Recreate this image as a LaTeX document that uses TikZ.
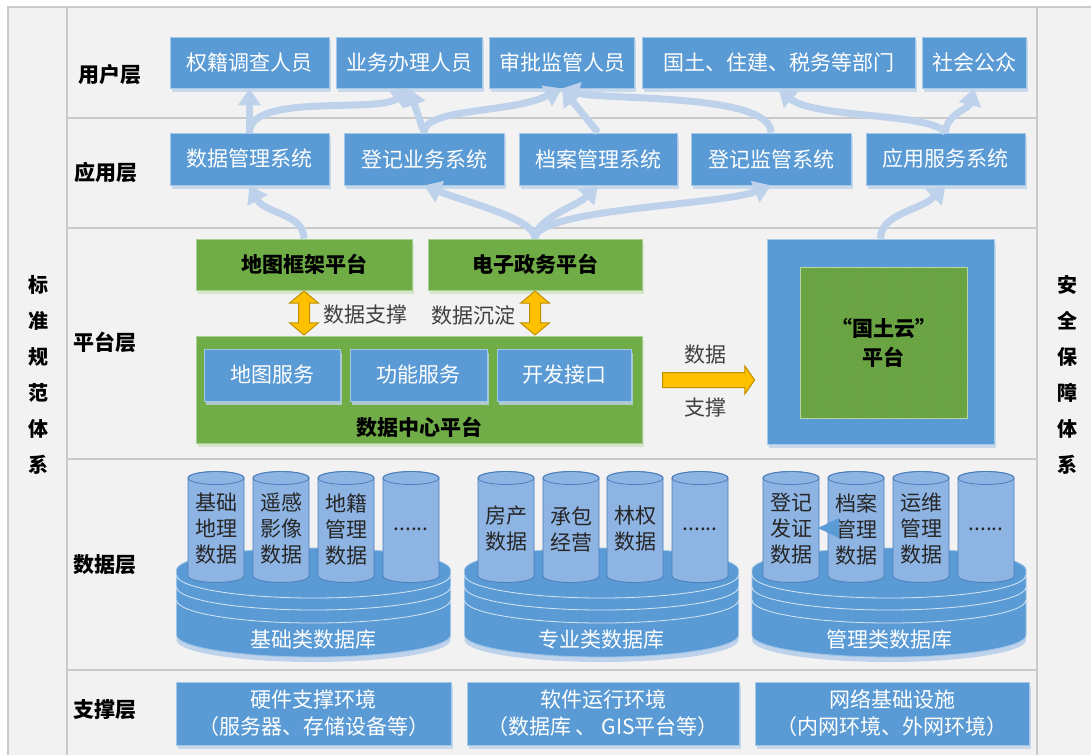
\documentclass[tikz,border=0pt]{standalone}
\usepackage{fontspec}
\setmainfont{Noto Sans CJK SC}
\usetikzlibrary{arrows.meta,shadows,patterns,shapes.arrows,calc}

\definecolor{boxblue}{HTML}{5B9BD5}
\definecolor{boxgreen}{HTML}{70AD47}
\definecolor{flowblue}{HTML}{BED3EB}
\definecolor{cylblue}{HTML}{8EB4E3}
\definecolor{cyledge}{HTML}{4A7EBB}
\definecolor{linegray}{HTML}{CACACA}
\definecolor{bggray}{HTML}{F2F2F2}
\definecolor{gold}{HTML}{FFC000}
\definecolor{golddark}{HTML}{BF9000}
\definecolor{textgray}{HTML}{404040}

\tikzset{
	every node/.style={font=\fontsize{21}{26}\selectfont},
	bluebox/.style={draw=boxblue!55!white, line width=.8pt, fill=boxblue, text=white, inner sep=0pt,
		drop shadow={shadow xshift=1.5pt, shadow yshift=-4pt, fill=flowblue, opacity=.8}},
	greenbox/.style={draw=boxgreen!60!white, line width=.8pt, fill=boxgreen, inner sep=0pt,
		font=\fontsize{21}{26}\selectfont\bfseries,
		drop shadow={shadow xshift=1.5pt, shadow yshift=-4pt, fill=boxgreen!35!white, opacity=.8}},
	layerlabel/.style={font=\fontsize{21}{26}\selectfont\bfseries},
	sidetext/.style={font=\fontsize{20}{36}\selectfont\bfseries, align=center},
	flow/.style={flowblue, line width=7pt, -{Triangle[width=22pt,length=17pt]}},
	yarrow/.style={fill=gold, draw=golddark, line width=1pt, inner sep=0pt},
	cyltext/.style={align=center, text=black!85},
}

\begin{document}
\begin{tikzpicture}[x=1pt, y=-1pt]
	\useasboundingbox (0,0) rectangle (1091,755);
	% frame and layers
	\fill[bggray] (8,7) rectangle (1091,755);
	\draw[linegray, line width=1.2pt] (8,755) -- (8,7) -- (1091,7);
	\draw[linegray, line width=1.2pt] (67,7) -- (67,755) (1037,7) -- (1037,755);
	\foreach \y in {118, 228, 459, 670} {
		\draw[linegray, line width=1.2pt] (67,\y) -- (1037,\y);
	}
	\node[sidetext] (bzgf) at (38,375) {标\\准\\规\\范\\体\\系};
	\node[sidetext] (aqbz) at (1067,375) {安\\全\\保\\障\\体\\系};

	\node[layerlabel] (yhc) at (110,75) {用户层};
	\node[layerlabel] (yyc) at (106,172) {应用层};
	\node[layerlabel] (ptc) at (105,342) {平台层};
	\node[layerlabel] (sjc) at (105,565) {数据层};
	\node[layerlabel] (zcc) at (105,710) {支撑层};

	% user layer
	\node[bluebox, minimum width=159pt, minimum height=51pt] (qjdc) at (249.5,62.5) {权籍调查人员};
	\node[bluebox, minimum width=146pt, minimum height=51pt] (ywbl) at (409,62.5) {业务办理人员};
	\node[bluebox, minimum width=145pt, minimum height=51pt] (spjg) at (562,62.5) {审批监管人员};
	\node[bluebox, minimum width=273pt, minimum height=51pt] (gtbm) at (778.5,62.5) {国土、住建、税务等部门};
	\node[bluebox, minimum width=104pt, minimum height=51pt] (shgz) at (974,62.5) {社会公众};

	% application layer
	\node[bluebox, minimum width=159pt, minimum height=52pt] (sjgl) at (249.5,159) {数据管理系统};
	\node[bluebox, minimum width=160pt, minimum height=52pt] (djyw) at (424,159) {登记业务系统};
	\node[bluebox, minimum width=158pt, minimum height=52pt] (dagl) at (598,159) {档案管理系统};
	\node[bluebox, minimum width=160pt, minimum height=52pt] (djjg) at (771,159) {登记监管系统};
	\node[bluebox, minimum width=159pt, minimum height=52pt] (yyfw) at (945.5,159) {应用服务系统};

	% platform layer
	\node[greenbox, minimum width=216pt, minimum height=51pt] (dtkj) at (304,264.5) {地图框架平台};
	\node[greenbox, minimum width=214pt, minimum height=51pt] (dzzw) at (535,264.5) {电子政务平台};
	\node[greenbox, minimum width=446pt, minimum height=107pt] (sjzx) at (419,389.5) {};
	\node[layerlabel] (sjzxmc) at (419,427) {数据中心平台};
	\node[bluebox, minimum width=136pt, minimum height=52pt] (dtfw) at (272,375) {地图服务};
	\node[bluebox, minimum width=137pt, minimum height=52pt] (gnfw) at (418.5,375) {功能服务};
	\node[bluebox, minimum width=134pt, minimum height=52pt] (kfjk) at (564,375) {开发接口};

	\node[yarrow, double arrow, rotate=90, minimum height=44pt, inner ysep=5pt, double arrow head extend=9pt,
		double arrow tip angle=100] (zcjt) at ($(dtkj.south)!.5!(dtkj.south |- sjzx.north)$) {};
	\node[yarrow, double arrow, rotate=90, minimum height=44pt, inner ysep=5pt, double arrow head extend=9pt,
		double arrow tip angle=100] (cdjt) at ($(dzzw.south)!.5!(dzzw.south |- sjzx.north)$) {};
	\node[text=textgray] (sjzc) at (365,315) {数据支撑};
	\node[text=textgray] (sjcd) at (473,315) {数据沉淀};

	\node[bluebox, minimum width=227pt, minimum height=205pt] (gty) at (880.5,341.5) {};
	\node[draw=boxgreen!50!white, line width=.8pt, preaction={fill=boxgreen}, pattern=north east lines,
		pattern color=boxgreen!85!black, minimum width=167pt, minimum height=151pt, align=center,
		font=\fontsize{21}{29}\selectfont\bfseries] (gtypt) at (883.5,342.5) {“国土云”\\平台};

	\node[yarrow, single arrow, minimum height=92pt, inner ysep=7pt, single arrow head extend=6.5pt,
		single arrow tip angle=110] (yzjt) at (706,380) {};
	\node[text=textgray] (yzsj) at (705,355) {数据};
	\node[text=textgray] (yzzc) at (705,408) {支撑};

	% data layer
	\foreach \cx/\name/\mc in {313.5/jclk/基础类数据库, 601.5/zylk/专业类数据库, 889/gllk/管理类数据库} {
		\fill[flowblue] (\cx-137,575) -- (\cx-137,640) arc[start angle=180, end angle=360, x radius=137pt, y radius=22pt] -- (\cx+137,575) -- cycle;
		\filldraw[fill=boxblue, draw=boxblue!60!white, line width=.8pt] (\cx-137,570) -- (\cx-137,635)
			arc[start angle=180, end angle=360, x radius=137pt, y radius=22pt] -- (\cx+137,570)
			arc[start angle=0, end angle=180, x radius=137pt, y radius=22pt] -- cycle;
		\foreach \y in {575, 587, 600}
			\draw[white!75!boxblue, line width=.8pt] (\cx-137,\y) arc[start angle=180, end angle=360, x radius=137pt, y radius=23pt];
		\node[text=white] (\name) at (\cx,640) {\mc};
	}
	\foreach \x in {188, 253, 318, 383, 478, 543, 607, 672, 763, 828, 893, 958} {
		\filldraw[fill=cylblue, draw=cyledge, line width=.8pt] (\x,478) -- (\x,576)
			arc[start angle=180, end angle=360, x radius=28pt, y radius=6.5pt] -- (\x+56,478)
			arc[start angle=0, end angle=180, x radius=28pt, y radius=6.5pt] -- cycle;
		\draw[cyledge, line width=.8pt] (\x+28,478) ellipse[x radius=28pt, y radius=6.5pt];
	}
	\node[cyltext] (jcdl) at (216,529) {基础\\地理\\数据};
	\node[cyltext] (ygyx) at (281,529) {遥感\\影像\\数据};
	\node[cyltext] (djsj) at (346,529) {地籍\\管理\\数据};
	\node[cyltext] (jcqt) at (411,529) {......};
	\node[cyltext] (fcsj) at (506,529) {房产\\数据};
	\node[cyltext] (cbjy) at (571,529) {承包\\经营};
	\node[cyltext] (lqsj) at (635,529) {林权\\数据};
	\node[cyltext] (zyqt) at (700,529) {......};
	\node[cyltext] (djfz) at (791,529) {登记\\发证\\数据};
	\node[cyltext] (dasj) at (856,529) {档案\\管理\\数据};
	\node[cyltext] (ywsj) at (921,529) {运维\\管理\\数据};
	\node[cyltext] (glqt) at (986,529) {......};
	\fill[boxblue] (818,528) -- (839,518) -- (839,538) -- cycle;

	% support layer
	\node[bluebox, minimum width=275pt, minimum height=63pt, align=center, font=\fontsize{21}{27}\selectfont] (yjhj) at (313.5,713.5) {硬件支撑环境\\（服务器、存储设备等）};
	\node[bluebox, minimum width=272pt, minimum height=63pt, align=center, font=\fontsize{21}{27}\selectfont] (rjhj) at (603,713.5) {软件运行环境\\（数据库 、 GIS平台等）};
	\node[bluebox, minimum width=274pt, minimum height=63pt, align=center, font=\fontsize{21}{27}\selectfont] (wlss) at (892,713.5) {网络基础设施\\（内网环境、外网环境）};

	% flows between layers
	\draw[flow] (sjgl.north) -- (qjdc.south);
	\draw[flow] (sjgl.north) .. controls +(0,-40) and +(-30,25) .. (ywbl.south);
	\draw[flow] (djyw.north) -- (ywbl.south);
	\draw[flow] (djyw.north) .. controls +(0,-25) and +(-50,25) .. (spjg.south);
	\draw[flow] (dagl.north) -- (spjg.south);
	\draw[flow] (djjg.north) .. controls +(0,-40) and +(40,12) .. (spjg.south);
	\draw[flow] (yyfw.north) .. controls +(-15,-20) and +(35,30) .. (gtbm.south);
	\draw[flow] (yyfw.north) .. controls +(0,-18) and +(-5,20) .. (shgz.south);

	\draw[flow] (dtkj.north) .. controls +(0,-25) and +(15,28) .. (sjgl.south);
	\draw[flow] (dzzw.north) .. controls +(0,-20) and +(45,18) .. (djyw.south);
	\draw[flow] (dzzw.north) .. controls +(0,-20) and +(-20,20) .. (dagl.south);
	\draw[flow] (dzzw.north) .. controls +(0,-30) and +(-50,20) .. (djjg.south);
	\draw[flow] (gty.north) .. controls +(0,-25) and +(-25,25) .. (yyfw.south);
\end{tikzpicture}
\end{document}
